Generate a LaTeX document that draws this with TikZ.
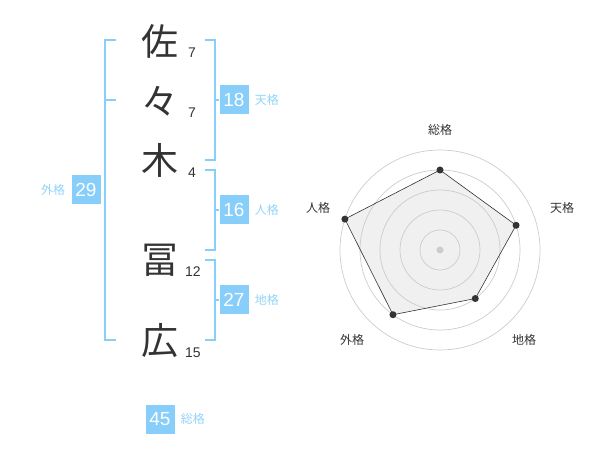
\documentclass[tikz,border=0pt]{standalone}
\usepackage{fontspec}
\setmainfont{Liberation Sans}
\newfontfamily\jpfont{Noto Sans CJK JP}
\usetikzlibrary{positioning,calc}
\definecolor{myblue}{HTML}{87CEFA}
\definecolor{mygray}{HTML}{333333}

\begin{document}
\begin{tikzpicture}[x=1pt,y=-1pt,
kanji/.style={font=\jpfont\fontsize{37}{37}\selectfont,text=mygray,inner sep=0pt},
strokes/.style={anchor=west,font=\fontsize{14}{14}\selectfont,text=mygray,inner sep=0pt},
score/.style={fill=myblue,text=white,font=\fontsize{19}{19}\selectfont,minimum width=29pt,minimum height=29pt,inner sep=0pt},
kind/.style={text=myblue!90,font=\jpfont\fontsize{12}{12}\selectfont,inner sep=0pt},
bracket/.style={draw=myblue,line width=1.6pt},
ring/.style={draw=black!20,line width=0.7pt},
axis/.style={text=mygray,font=\jpfont\fontsize{12}{12}\selectfont,inner sep=0pt}]

\useasboundingbox (0,0) rectangle (600,470);

% name
\node[kanji] (k1) at (160,41) {佐};
\node[kanji] (k2) at (160,101) {々};
\node[kanji] (k3) at (160,160) {木};
\node[kanji] (k4) at (160,260) {冨};
\node[kanji] (k5) at (160,341) {広};

% strokes
\node[strokes] (n1) at (188,53) {7};
\node[strokes] (n2) at (188,113) {7};
\node[strokes] (n3) at (188,173) {4};
\node[strokes] (n4) at (185,272) {12};
\node[strokes] (n5) at (185,353) {15};

% scores
\node[score] (s18) at (234,100) {18};
\node[kind,right=6pt of s18] {天格};
\node[score] (s16) at (234,210) {16};
\node[kind,right=6pt of s16] {人格};
\node[score] (s27) at (234,300) {27};
\node[kind,right=6pt of s27] {地格};
\node[score] (s29) at (86,190) {29};
\node[kind,left=6pt of s29] {外格};
\node[score] (s45) at (160,419) {45};
\node[kind,right=6pt of s45] {総格};

% brackets
\draw[bracket] (116,40) -- (105,40) -- (105,340) -- (116,340);
\draw[bracket] (105,100) -- (116,100);
\draw[bracket] (205,40) -- (215,40) -- (215,160) -- (205,160);
\draw[bracket] (215,100) -- (s18.west);
\draw[bracket] (205,170) -- (215,170) -- (215,250) -- (205,250);
\draw[bracket] (215,210) -- (s16.west);
\draw[bracket] (205,260) -- (215,260) -- (215,340) -- (205,340);
\draw[bracket] (215,300) -- (s27.west);

% radar
\begin{scope}[shift={(440,250)},yscale=-1]
\foreach \a/\v/\n in {90/80/1,18/80/2,-54/60/3,-126/80/4,162/100/5}
  \coordinate (p\n) at (\a:\v);
\fill[black!6] (p1) -- (p2) -- (p3) -- (p4) -- (p5) -- cycle;
\foreach \r in {20,40,...,100}
  \draw[ring] (0,0) circle (\r);
\fill[black!20] (0,0) circle (3.5);
\draw[mygray,line width=0.6pt] (p1) -- (p2) -- (p3) -- (p4) -- (p5) -- cycle;
\foreach \n in {1,...,5}
  \fill[mygray] (p\n) circle (3.5);
\foreach \x/\y/\t/\n in {0/120/総格/1,122/42/天格/2,84/-90/地格/3,-88/-90/外格/4,-122/42/人格/5}
  \node[axis] (l\n) at (\x,\y) {\t};
\end{scope}
\end{tikzpicture}
\end{document}
